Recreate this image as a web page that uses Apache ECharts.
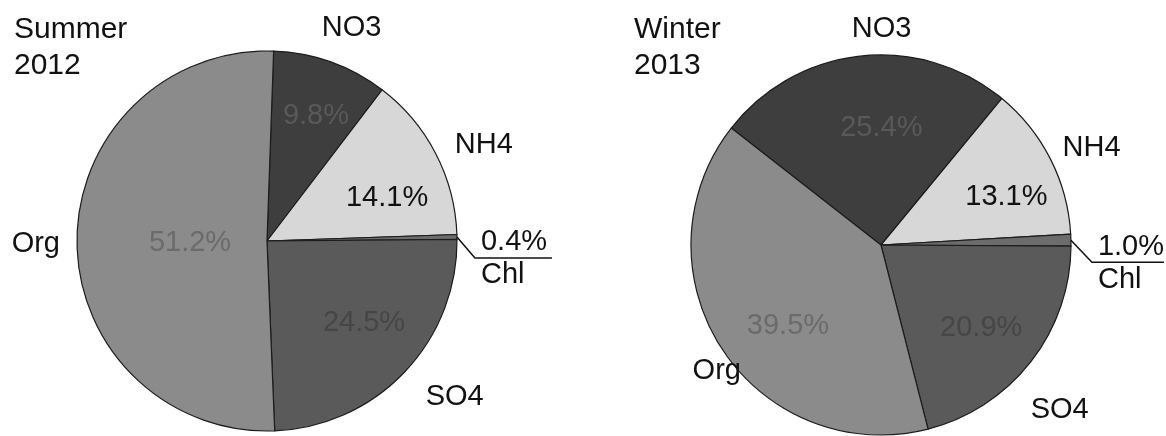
<!DOCTYPE html>
<html>
<head>
<meta charset="utf-8">
<script src="https://cdn.jsdelivr.net/npm/echarts@6/dist/echarts.min.js"></script>
<style>
  html, body { margin: 0; padding: 0; background: #ffffff; }
  #chart { width: 1166px; height: 436px; }
</style>
</head>
<body>
<div id="chart"></div>
<script>
// ---- data ----
const sliceNames = ['NO3', 'NH4', 'Chl', 'SO4', 'Org'];
const summerPct = [9.8, 14.1, 0.4, 24.5, 51.2];
const winterPct = [25.4, 13.1, 1.0, 20.9, 39.5];
const panelTitles = ['Summer\n2012', 'Winter\n2013'];

// ---- styles ----
const FONT = '"Liberation Sans", Arial, Helvetica, sans-serif';
const sliceColors = ['#3e3e3e', '#d7d7d7', '#6c6c6c', '#5a5a5a', '#8b8b8b'];
const pctColors = ['#595959', '#111111', '#6c6c6c', '#464646', '#6b6b6b'];
const summerInNudge = [[16, -33], [33, 2], [0, 0], [26, 14], [21, 2]];
const summerOutNudge = [[-14, -34], [14, -9], [0, 0], [16, 25], [-12, 2]];
const winterInNudge = [[11, -20], [38, -4], [0, 0], [23, 23], [-11, 27]];
const winterOutNudge = [[56, -27], [7, -11], [0, 0], [-5, 48], [24, 22]];
const chlBend = [[18, 21, 77], [21, 22, 72]];

const chart = echarts.init(document.getElementById('chart'), null, { renderer: 'canvas' });

function fillData(vals) {
  return vals.map((v, i) => ({
    name: sliceNames[i],
    value: v,
    itemStyle: { color: sliceColors[i] },
    label: { show: sliceNames[i] !== 'Chl', color: pctColors[i] }
  }));
}
function nameData(vals) {
  return vals.map((v, i) => {
    const isChl = sliceNames[i] === 'Chl';
    return {
      name: sliceNames[i],
      value: v,
      labelLine: isChl ? { show: true, length: 18, length2: 60 } : { show: false }
    };
  });
}

function nudgeLayout(nudges) {
  return function (p) {
    const n = nudges[p.dataIndex];
    return { x: p.labelRect.x + n[0], y: p.labelRect.y + n[1], align: 'left', verticalAlign: 'top' };
  };
}
function nameLayout(nudges, bend) {
  return function (p) {
    if (sliceNames[p.dataIndex] === 'Chl') {
      const p0 = (p.labelLinePoints && p.labelLinePoints[0]) || [p.labelRect.x - 20, p.labelRect.y];
      const p1 = [p0[0] + bend[0], p0[1] + bend[1]];
      const p2 = [p1[0] + bend[2], p1[1]];
      return {
        x: p1[0] + 6, y: p1[1] + 1, align: 'left', verticalAlign: 'middle',
        labelLinePoints: [p0, p1, p2]
      };
    }
    const n = nudges[p.dataIndex];
    return { x: p.labelRect.x + n[0], y: p.labelRect.y + n[1], align: 'left', verticalAlign: 'top' };
  };
}

function fillSeries(vals, center, startAngle, nudges) {
  return {
    type: 'pie',
    center: center,
    radius: 190,
    startAngle: startAngle,
    clockwise: true,
    avoidLabelOverlap: false,
    silent: true,
    itemStyle: { borderColor: '#1c1c1c', borderWidth: 1.2 },
    label: {
      show: true, position: 'inside', fontFamily: FONT, fontSize: 29,
      formatter: p => p.value.toFixed(1) + '%'
    },
    labelLine: { show: false },
    labelLayout: nudgeLayout(nudges),
    emphasis: { disabled: true },
    data: fillData(vals)
  };
}
function nameSeries(vals, center, startAngle, nudges, bend) {
  return {
    type: 'pie',
    center: center,
    radius: 190,
    startAngle: startAngle,
    clockwise: true,
    avoidLabelOverlap: false,
    silent: true,
    z: 3,
    itemStyle: { color: 'rgba(0,0,0,0)', borderWidth: 0 },
    label: {
      show: true, position: 'outside', fontFamily: FONT, fontSize: 29, color: '#111111',
      lineHeight: 33, distanceToLabelLine: 5,
      formatter: p => p.name === 'Chl' ? p.value.toFixed(1) + '%\n' + p.name : p.name
    },
    labelLine: { show: false, length: 0, length2: 0, smooth: false,
      lineStyle: { color: '#111111', width: 1.5 } },
    labelLayout: nameLayout(nudges, bend),
    emphasis: { disabled: true },
    data: nameData(vals)
  };
}

const option = {
  backgroundColor: '#ffffff',
  animation: false,
  title: [
    { text: panelTitles[0], left: 9, top: 7,
      textStyle: { fontFamily: FONT, fontSize: 30, fontWeight: 'normal', color: '#111111', lineHeight: 36 } },
    { text: panelTitles[1], left: 629, top: 7,
      textStyle: { fontFamily: FONT, fontSize: 30, fontWeight: 'normal', color: '#111111', lineHeight: 36 } }
  ],
  series: [
    fillSeries(summerPct, [267, 241], 88, summerInNudge),
    nameSeries(summerPct, [267, 241], 88, summerOutNudge, chlBend[0]),
    fillSeries(winterPct, [881, 245], 142, winterInNudge),
    nameSeries(winterPct, [881, 245], 142, winterOutNudge, chlBend[1])
  ]
};
chart.setOption(option);
</script>
</body>
</html>
